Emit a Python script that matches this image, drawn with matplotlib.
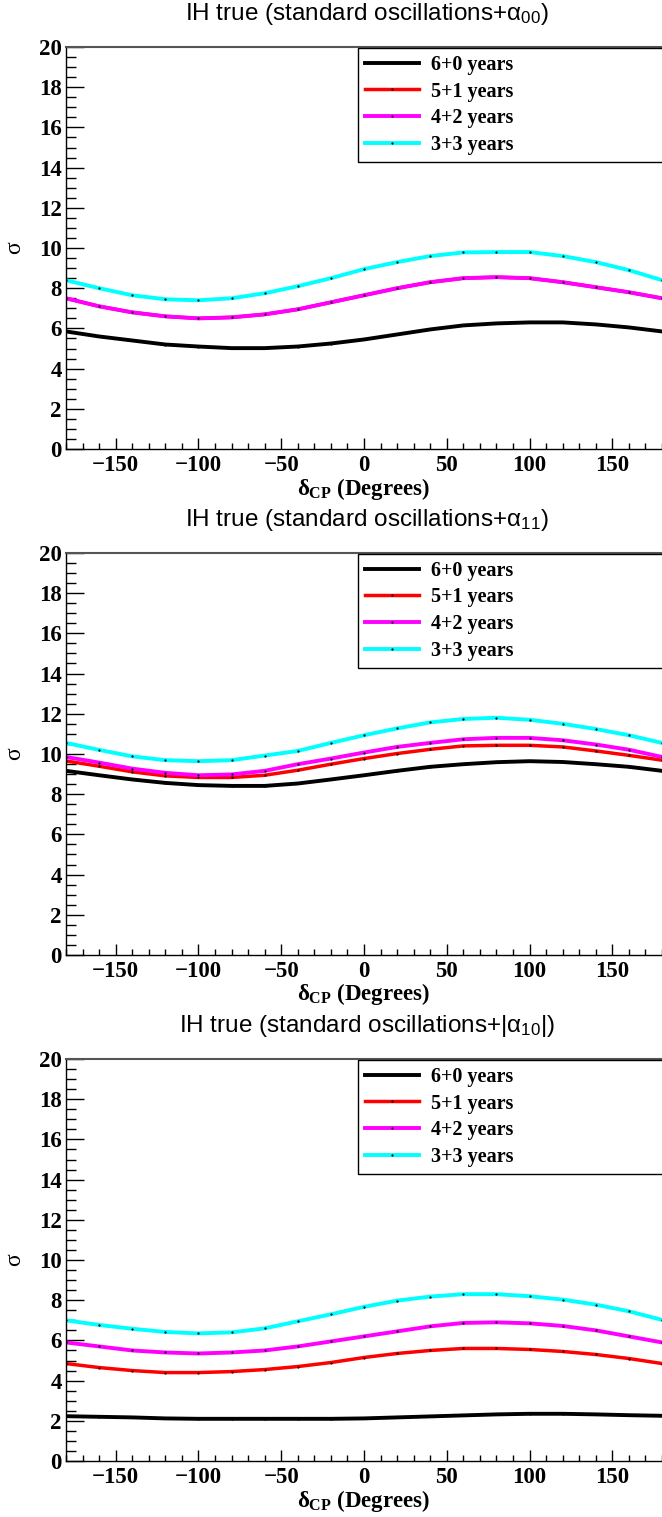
import numpy as np
import matplotlib
matplotlib.use('Agg')
import matplotlib.pyplot as plt
from matplotlib.ticker import MultipleLocator

# delta_CP grid (degrees)
delta_cp = np.arange(-180, 181, 20)

# alpha_00
a00_60 = [5.85, 5.6, 5.4, 5.2, 5.1, 5.02, 5.02, 5.1, 5.25, 5.45, 5.7, 5.95, 6.15, 6.25, 6.3, 6.3, 6.2, 6.05, 5.85]
a00_51 = [7.5, 7.1, 6.8, 6.6, 6.5, 6.55, 6.7, 6.95, 7.3, 7.65, 8.0, 8.3, 8.5, 8.55, 8.5, 8.3, 8.05, 7.8, 7.5]
a00_42 = [7.5, 7.1, 6.8, 6.6, 6.5, 6.55, 6.7, 6.95, 7.3, 7.65, 8.0, 8.3, 8.5, 8.55, 8.5, 8.3, 8.05, 7.8, 7.5]
a00_33 = [8.4, 8.0, 7.65, 7.45, 7.4, 7.5, 7.75, 8.1, 8.5, 8.95, 9.3, 9.6, 9.78, 9.8, 9.8, 9.6, 9.3, 8.9, 8.4]

# alpha_11
a11_60 = [9.16, 8.94, 8.73, 8.56, 8.45, 8.41, 8.41, 8.53, 8.73, 8.94, 9.16, 9.36, 9.49, 9.59, 9.64, 9.6, 9.49, 9.36, 9.16]
a11_51 = [9.65, 9.39, 9.11, 8.91, 8.83, 8.83, 8.94, 9.19, 9.49, 9.77, 10.02, 10.23, 10.4, 10.43, 10.43, 10.35, 10.15, 9.93, 9.69]
a11_42 = [9.85, 9.57, 9.27, 9.06, 8.94, 8.98, 9.16, 9.49, 9.77, 10.07, 10.35, 10.55, 10.73, 10.8, 10.8, 10.68, 10.47, 10.21, 9.85]
a11_33 = [10.55, 10.2, 9.88, 9.69, 9.64, 9.69, 9.92, 10.15, 10.55, 10.93, 11.27, 11.57, 11.74, 11.8, 11.7, 11.5, 11.24, 10.93, 10.55]

# |alpha_10|
a10_60 = [2.23, 2.2, 2.17, 2.12, 2.1, 2.1, 2.1, 2.1, 2.1, 2.12, 2.17, 2.22, 2.27, 2.32, 2.35, 2.35, 2.32, 2.28, 2.25]
a10_51 = [4.85, 4.65, 4.5, 4.4, 4.4, 4.45, 4.55, 4.7, 4.9, 5.15, 5.35, 5.5, 5.6, 5.6, 5.55, 5.45, 5.3, 5.1, 4.85]
a10_42 = [5.9, 5.7, 5.5, 5.4, 5.35, 5.4, 5.5, 5.7, 5.95, 6.2, 6.45, 6.7, 6.87, 6.9, 6.85, 6.72, 6.5, 6.2, 5.9]
a10_33 = [7.0, 6.77, 6.58, 6.42, 6.35, 6.4, 6.6, 6.95, 7.3, 7.67, 7.98, 8.18, 8.3, 8.3, 8.2, 8.03, 7.78, 7.45, 7.02]

labels = ['6+0 years', '5+1 years', '4+2 years', '3+3 years']
colors = ['black', '#ff0000', '#ff00ff', '#00ffff']
widths = [2.8, 2.5, 2.8, 2.8]
titles = [r'IH true (standard oscillations+α$_{\mathregular{00}}$)',
          r'IH true (standard oscillations+α$_{\mathregular{11}}$)',
          r'IH true (standard oscillations+|α$_{\mathregular{10}}$|)']
panels = [[a00_60, a00_51, a00_42, a00_33],
          [a11_60, a11_51, a11_42, a11_33],
          [a10_60, a10_51, a10_42, a10_33]]

plt.rcParams['mathtext.fontset'] = 'custom'
plt.rcParams['mathtext.rm'] = 'Liberation Serif:bold'
plt.rcParams['mathtext.it'] = 'Liberation Serif:bold'
plt.rcParams['mathtext.bf'] = 'Liberation Serif:bold'

serif_bold = {'family': 'Liberation Serif', 'weight': 'bold'}

fig = plt.figure(figsize=(6.62, 15.17), dpi=100)
bottoms = [0.704, 0.3705, 0.0369]

for k in range(3):
    ax = fig.add_axes([0.0997, bottoms[k], 0.9003, 0.265])
    for series, col, lab, w in zip(panels[k], colors, labels, widths):
        ax.plot(delta_cp, series, color=col, lw=w, label=lab,
                marker='.', ms=1.2, mfc='black', mec='black')

    ax.set_xlim(-180, 180)
    ax.set_ylim(0, 20)
    ax.xaxis.set_major_locator(MultipleLocator(50))
    ax.xaxis.set_minor_locator(MultipleLocator(10))
    ax.yaxis.set_major_locator(MultipleLocator(2))
    ax.yaxis.set_minor_locator(MultipleLocator(0.5))
    ax.tick_params(axis='both', which='both', direction='in',
                   top=False, right=False)
    ax.tick_params(axis='y', which='major', length=13, width=1, pad=3)
    ax.tick_params(axis='y', which='minor', length=7, width=1)
    ax.tick_params(axis='x', which='major', length=8, width=1, pad=4)
    ax.tick_params(axis='x', which='minor', length=4.5, width=1)
    for lbl in ax.get_xticklabels() + ax.get_yticklabels():
        lbl.set_fontfamily('Liberation Serif')
        lbl.set_fontweight('bold')
        lbl.set_fontsize(16.5)

    ax.spines['right'].set_visible(False)
    ax.spines['top'].set_color('#555555')
    ax.spines['top'].set_linewidth(1.5)
    ax.spines['left'].set_linewidth(1)
    ax.spines['bottom'].set_linewidth(1)

    ax.set_xlabel(r'$\delta_{\mathregular{CP}}$ (Degrees)', fontsize=16.5, **serif_bold)
    ax.xaxis.set_label_coords(0.5, -0.066)
    ax.set_ylabel('σ', fontsize=17, family='Liberation Serif')
    ax.yaxis.set_label_coords(-0.068, 0.5)

    ax.text(0.505, 1.082, titles[k], transform=ax.transAxes, ha='center',
            va='center', fontsize=17.5, family='Liberation Sans')

    leg = ax.legend(loc='upper left', bbox_to_anchor=(0.49, 0.714, 0.52, 0.284),
                    mode='expand', borderaxespad=0, fancybox=False,
                    prop={'family': 'Liberation Serif', 'weight': 'bold', 'size': 14.5},
                    handlelength=2.7, handletextpad=0.55, labelspacing=0.33,
                    borderpad=0.35, framealpha=1)
    leg.get_frame().set_edgecolor('black')
    leg.get_frame().set_linewidth(1)

fig.savefig('out.png', dpi=100)
